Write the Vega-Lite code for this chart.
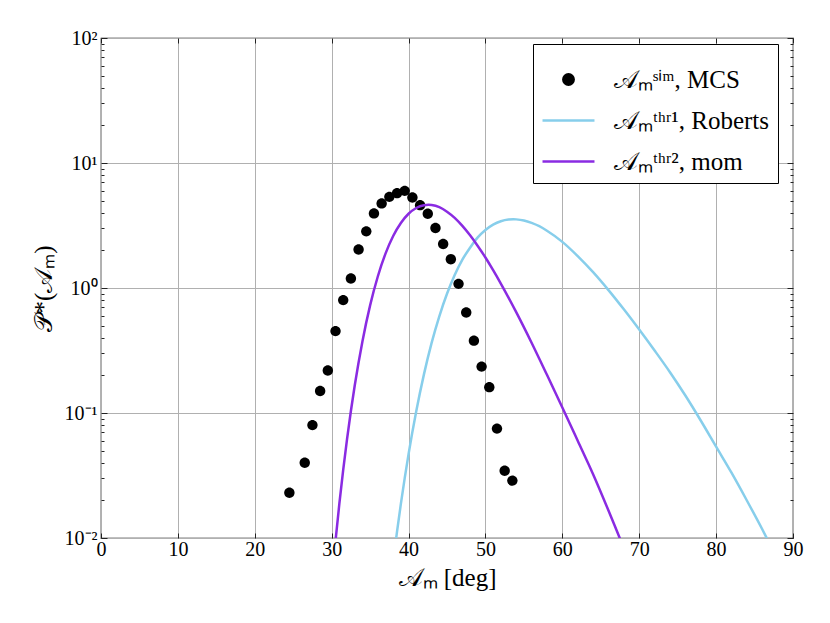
{
  "$schema": "https://vega.github.io/schema/vega-lite/v6.json",
  "width": 692,
  "height": 500,
  "autosize": {"type": "none"},
  "padding": {"left": 101, "top": 38, "right": 37, "bottom": 85},
  "background": "white",
  "config": {
    "view": {"stroke": "black", "strokeWidth": 1.2},
    "font": "Liberation Serif",
    "axis": {
      "labelFont": "Liberation Serif",
      "titleFont": "Liberation Serif",
      "labelColor": "black",
      "titleColor": "black",
      "titleFontWeight": "normal",
      "domain": false,
      "gridColor": "#b0b0b0",
      "gridWidth": 1,
      "tickColor": "#222222",
      "tickWidth": 1
    }
  },
  "data": {
    "values": [
      {"s": "MCS", "x": 24.5, "y": 0.023},
      {"s": "MCS", "x": 26.5, "y": 0.040},
      {"s": "MCS", "x": 27.5, "y": 0.080},
      {"s": "MCS", "x": 28.5, "y": 0.150},
      {"s": "MCS", "x": 29.5, "y": 0.219},
      {"s": "MCS", "x": 30.5, "y": 0.452},
      {"s": "MCS", "x": 31.5, "y": 0.80},
      {"s": "MCS", "x": 32.5, "y": 1.19},
      {"s": "MCS", "x": 33.5, "y": 2.03},
      {"s": "MCS", "x": 34.5, "y": 2.84},
      {"s": "MCS", "x": 35.5, "y": 3.95},
      {"s": "MCS", "x": 36.5, "y": 4.75},
      {"s": "MCS", "x": 37.5, "y": 5.36},
      {"s": "MCS", "x": 38.5, "y": 5.74},
      {"s": "MCS", "x": 39.5, "y": 5.99},
      {"s": "MCS", "x": 40.5, "y": 5.30},
      {"s": "MCS", "x": 41.5, "y": 4.60},
      {"s": "MCS", "x": 42.5, "y": 3.93},
      {"s": "MCS", "x": 43.5, "y": 3.02},
      {"s": "MCS", "x": 44.5, "y": 2.25},
      {"s": "MCS", "x": 45.5, "y": 1.70},
      {"s": "MCS", "x": 46.5, "y": 1.08},
      {"s": "MCS", "x": 47.5, "y": 0.637},
      {"s": "MCS", "x": 48.5, "y": 0.379},
      {"s": "MCS", "x": 49.5, "y": 0.235},
      {"s": "MCS", "x": 50.5, "y": 0.161},
      {"s": "MCS", "x": 51.5, "y": 0.075},
      {"s": "MCS", "x": 52.5, "y": 0.0345},
      {"s": "MCS", "x": 53.5, "y": 0.0288},

      {"s": "Roberts", "x": 38.0, "y": 0.00649},
      {"s": "Roberts", "x": 38.5, "y": 0.01125},
      {"s": "Roberts", "x": 39.0, "y": 0.01875},
      {"s": "Roberts", "x": 39.5, "y": 0.0301},
      {"s": "Roberts", "x": 40.0, "y": 0.0469},
      {"s": "Roberts", "x": 41.0, "y": 0.1033},
      {"s": "Roberts", "x": 42.0, "y": 0.2037},
      {"s": "Roberts", "x": 43.0, "y": 0.364},
      {"s": "Roberts", "x": 44.0, "y": 0.594},
      {"s": "Roberts", "x": 45.0, "y": 0.899},
      {"s": "Roberts", "x": 46.0, "y": 1.27},
      {"s": "Roberts", "x": 47.0, "y": 1.687},
      {"s": "Roberts", "x": 48.0, "y": 2.10},
      {"s": "Roberts", "x": 49.0, "y": 2.54},
      {"s": "Roberts", "x": 50.0, "y": 2.91},
      {"s": "Roberts", "x": 51.0, "y": 3.21},
      {"s": "Roberts", "x": 52.0, "y": 3.42},
      {"s": "Roberts", "x": 53.0, "y": 3.53},
      {"s": "Roberts", "x": 53.64, "y": 3.548},
      {"s": "Roberts", "x": 54.0, "y": 3.54},
      {"s": "Roberts", "x": 55.0, "y": 3.47},
      {"s": "Roberts", "x": 56.0, "y": 3.32},
      {"s": "Roberts", "x": 57.0, "y": 3.12},
      {"s": "Roberts", "x": 58.0, "y": 2.87},
      {"s": "Roberts", "x": 60.0, "y": 2.34},
      {"s": "Roberts", "x": 62.0, "y": 1.80},
      {"s": "Roberts", "x": 64.0, "y": 1.338},
      {"s": "Roberts", "x": 66.0, "y": 0.962},
      {"s": "Roberts", "x": 68.0, "y": 0.675},
      {"s": "Roberts", "x": 70.0, "y": 0.465},
      {"s": "Roberts", "x": 72.0, "y": 0.316},
      {"s": "Roberts", "x": 74.0, "y": 0.212},
      {"s": "Roberts", "x": 76.0, "y": 0.138},
      {"s": "Roberts", "x": 78.0, "y": 0.0871},
      {"s": "Roberts", "x": 80.0, "y": 0.0538},
      {"s": "Roberts", "x": 82.0, "y": 0.0333},
      {"s": "Roberts", "x": 84.0, "y": 0.01995},
      {"s": "Roberts", "x": 86.0, "y": 0.01175},
      {"s": "Roberts", "x": 87.0, "y": 0.0089},

      {"s": "mom", "x": 30.0, "y": 0.0045},
      {"s": "mom", "x": 30.5, "y": 0.00948},
      {"s": "mom", "x": 31.0, "y": 0.0188},
      {"s": "mom", "x": 31.5, "y": 0.0351},
      {"s": "mom", "x": 32.0, "y": 0.0619},
      {"s": "mom", "x": 32.5, "y": 0.1038},
      {"s": "mom", "x": 33.0, "y": 0.166},
      {"s": "mom", "x": 34.0, "y": 0.374},
      {"s": "mom", "x": 35.0, "y": 0.726},
      {"s": "mom", "x": 36.0, "y": 1.236},
      {"s": "mom", "x": 37.0, "y": 1.884},
      {"s": "mom", "x": 38.0, "y": 2.606},
      {"s": "mom", "x": 39.0, "y": 3.311},
      {"s": "mom", "x": 40.0, "y": 3.926},
      {"s": "mom", "x": 41.0, "y": 4.365},
      {"s": "mom", "x": 42.0, "y": 4.598},
      {"s": "mom", "x": 42.6, "y": 4.634},
      {"s": "mom", "x": 43.0, "y": 4.61},
      {"s": "mom", "x": 44.0, "y": 4.43},
      {"s": "mom", "x": 45.0, "y": 4.08},
      {"s": "mom", "x": 46.0, "y": 3.64},
      {"s": "mom", "x": 47.0, "y": 3.14},
      {"s": "mom", "x": 48.0, "y": 2.64},
      {"s": "mom", "x": 49.0, "y": 2.17},
      {"s": "mom", "x": 50.0, "y": 1.754},
      {"s": "mom", "x": 51.0, "y": 1.39},
      {"s": "mom", "x": 52.0, "y": 1.086},
      {"s": "mom", "x": 54.0, "y": 0.641},
      {"s": "mom", "x": 56.0, "y": 0.365},
      {"s": "mom", "x": 58.0, "y": 0.202},
      {"s": "mom", "x": 60.0, "y": 0.1107},
      {"s": "mom", "x": 62.0, "y": 0.060},
      {"s": "mom", "x": 64.0, "y": 0.0324},
      {"s": "mom", "x": 66.0, "y": 0.0166},
      {"s": "mom", "x": 67.0, "y": 0.01175},
      {"s": "mom", "x": 68.0, "y": 0.0083}
    ]
  },
  "layer": [
    {
      "transform": [{"filter": "datum.s === 'MCS'"}],
      "mark": {"type": "point", "filled": true, "size": 2700, "opacity": 1},
      "encoding": {
        "x": {
          "field": "x", "type": "quantitative",
          "scale": {"domain": [0, 90], "nice": false, "zero": false},
          "axis": {
            "orient": "bottom",
            "values": [0, 10, 20, 30, 40, 50, 60, 70, 80, 90],
            "grid": true,
            "title": "𝒜ₘ [deg]",
            "labelFontSize": 20,
            "titleFontSize": 25,
            "labelPadding": 6,
            "titlePadding": 6,
            "labelFlush": false,
            "tickSize": -5
          }
        },
        "y": {
          "field": "y", "type": "quantitative",
          "scale": {"type": "log", "domain": [0.01, 100], "nice": false},
          "axis": {
            "orient": "left",
            "values": [0.01, 0.02, 0.03, 0.04, 0.05, 0.06, 0.07, 0.08, 0.09, 0.1, 0.2, 0.3, 0.4, 0.5, 0.6, 0.7, 0.8, 0.9, 1, 2, 3, 4, 5, 6, 7, 8, 9, 10, 20, 30, 40, 50, 60, 70, 80, 90, 100],
            "grid": true,
            "gridOpacity": {"condition": {"test": "indexof([0.01, 0.1, 1, 10, 100], datum.value) >= 0", "value": 1}, "value": 0},
            "tickSize": {"condition": {"test": "indexof([0.01, 0.1, 1, 10, 100], datum.value) >= 0", "value": -6}, "value": -3},
            "labelExpr": "datum.value == 100 ? '10²' : datum.value == 10 ? '10¹' : datum.value == 1 ? '10⁰' : datum.value == 0.1 ? '10⁻¹' : datum.value == 0.01 ? '10⁻²' : ''",
            "labelFontSize": 20,
            "labelPadding": 10,
            "title": "𝒫*(𝒜ₘ)",
            "titleFontSize": 25,
            "titlePadding": 8
          }
        },
        "color": {
          "field": "s", "type": "nominal",
          "scale": {"domain": ["MCS", "Roberts", "mom"], "range": ["black", "#87CEEB", "#8A2BE2"]},
          "legend": {
            "title": null,
            "orient": "none",
            "legendX": 432,
            "legendY": 6,
            "padding": 8,
            "fillColor": "white",
            "strokeColor": "black",
            "labelFont": "Liberation Serif",
            "labelFontSize": 25,
            "labelColor": "black",
            "labelLimit": 400,
            "labelOffset": 18,
            "rowPadding": 0,
            "symbolSize": 2700,
            "symbolStrokeWidth": 2.5,
            "labelExpr": "datum.value == 'MCS' ? '𝒜ₘˢⁱᵐ, MCS' : datum.value == 'Roberts' ? '𝒜ₘᵗʰʳ¹, Roberts' : '𝒜ₘᵗʰʳ², mom'",
            "encode": {
              "legend": {"update": {"strokeWidth": {"value": 2}}},
              "symbols": {"update": {
                "stroke": {"signal": "scale('color', datum.value)"},
                "strokeWidth": {"signal": "datum.value === 'MCS' ? 0 : 2.5"}
              }}
            }
          }
        },
        "shape": {
          "field": "s", "type": "nominal",
          "scale": {"domain": ["MCS", "Roberts", "mom"], "range": ["M0.2,0 A0.2,0.2 0 1,1 -0.2,0 A0.2,0.2 0 1,1 0.2,0 Z", "M-1,0 L1,0", "M-1,0 L1,0"]},
          "legend": {
            "title": null,
            "orient": "none",
            "legendX": 432,
            "legendY": 6,
            "padding": 8,
            "fillColor": "white",
            "strokeColor": "black",
            "labelFont": "Liberation Serif",
            "labelFontSize": 25,
            "labelColor": "black",
            "labelLimit": 400,
            "labelOffset": 18,
            "rowPadding": 0,
            "symbolSize": 2700,
            "symbolStrokeWidth": 2.5,
            "labelExpr": "datum.value == 'MCS' ? '𝒜ₘˢⁱᵐ, MCS' : datum.value == 'Roberts' ? '𝒜ₘᵗʰʳ¹, Roberts' : '𝒜ₘᵗʰʳ², mom'",
            "encode": {
              "legend": {"update": {"strokeWidth": {"value": 2}}},
              "symbols": {"update": {
                "stroke": {"signal": "scale('color', datum.value)"},
                "strokeWidth": {"signal": "datum.value === 'MCS' ? 0 : 2.5"}
              }}
            }
          }
        }
      }
    },
    {
      "transform": [{"filter": "datum.s === 'Roberts'"}],
      "mark": {"type": "line", "strokeWidth": 2.5, "clip": true, "interpolate": "monotone"},
      "encoding": {
        "x": {
          "field": "x", "type": "quantitative",
          "axis": {
            "orient": "top",
            "values": [0, 10, 20, 30, 40, 50, 60, 70, 80, 90],
            "labels": false, "grid": false, "title": null,
            "tickSize": -5
          }
        },
        "y": {
          "field": "y", "type": "quantitative",
          "axis": {
            "orient": "right",
            "values": [0.01, 0.02, 0.03, 0.04, 0.05, 0.06, 0.07, 0.08, 0.09, 0.1, 0.2, 0.3, 0.4, 0.5, 0.6, 0.7, 0.8, 0.9, 1, 2, 3, 4, 5, 6, 7, 8, 9, 10, 20, 30, 40, 50, 60, 70, 80, 90, 100],
            "labels": false, "grid": false, "title": null,
            "tickSize": {"condition": {"test": "indexof([0.01, 0.1, 1, 10, 100], datum.value) >= 0", "value": -6}, "value": -3}
          }
        },
        "color": {"field": "s", "type": "nominal"}
      }
    },
    {
      "transform": [{"filter": "datum.s === 'mom'"}],
      "mark": {"type": "line", "strokeWidth": 2.5, "clip": true, "interpolate": "monotone"},
      "encoding": {
        "x": {"field": "x", "type": "quantitative", "axis": null},
        "y": {"field": "y", "type": "quantitative", "axis": null},
        "color": {"field": "s", "type": "nominal"}
      }
    }
  ],
  "resolve": {"axis": {"x": "independent", "y": "independent"}}
}
